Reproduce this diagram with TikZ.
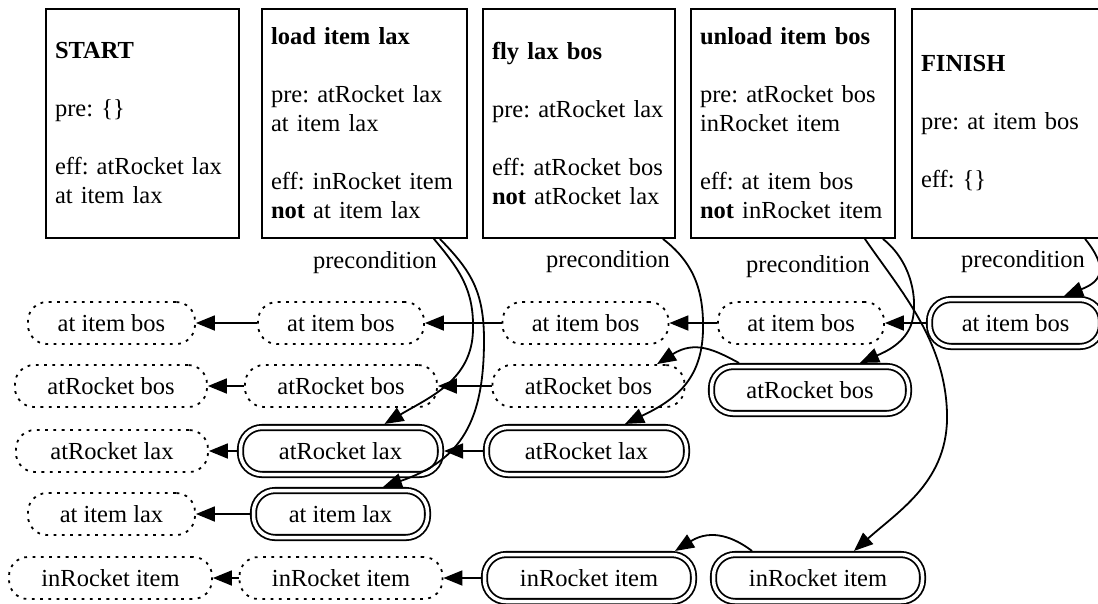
\documentclass[tikz,border=0pt]{standalone}
\usepackage{fontspec}
\setmainfont{Liberation Serif}
\usetikzlibrary{arrows.meta}

\begin{document}
\begin{tikzpicture}[x=1pt,y=-1pt,
  every node/.style={font=\fontsize{24.5}{29}\selectfont\frenchspacing},
  action/.style={draw, line width=1.8pt, rectangle, minimum height=229pt,
    inner xsep=9pt, inner ysep=0pt, align=left},
  fact/.style={rectangle, inner sep=0pt, line width=1.8pt},
  dotfact/.style={fact, draw, rounded corners=19pt, minimum height=42pt,
    dash pattern=on 2.8pt off 5.5pt, minimum width=#1},
  dblfact/.style={fact, draw, double, double distance=3.5pt,
    rounded corners=21.6pt, minimum height=47pt, minimum width=#1,
    outer sep=3.55pt},
  arr/.style={line width=1.8pt, -{Triangle[length=19pt,width=15pt]}},
  lbl/.style={inner sep=0pt}]

\useasboundingbox (0,0) rectangle (1098,603);
\clip (0,0) rectangle (1098,603);

% plan steps
\node[action, text width=175pt] (start) at (142.5,123.5)
  {\mbox{\textbf{START}}\\[29pt]\mbox{pre: \{\}}\\[29pt]\mbox{eff: atRocket lax}\\\mbox{at item lax}};
\node[action, text width=187pt] (load) at (364.5,123.5)
  {\mbox{\textbf{load item lax}}\\[29pt]\mbox{pre: atRocket lax}\\\mbox{at item lax}\\[29pt]\mbox{eff: inRocket item}\\\mbox{\textbf{not} at item lax}};
\node[action, text width=174pt] (fly) at (579,123.5)
  {\mbox{\textbf{fly lax bos}}\\[29pt]\mbox{pre: atRocket lax}\\[29pt]\mbox{eff: atRocket bos}\\\mbox{\textbf{not} atRocket lax}};
\node[action, text width=186pt] (unload) at (793,123.5)
  {\mbox{\textbf{unload item bos}}\\[29pt]\mbox{pre: atRocket bos}\\\mbox{inRocket item}\\[29pt]\mbox{eff: at item bos}\\\mbox{\textbf{not} inRocket item}};
\node[action, text width=177pt] (finish) at (1009.5,123.5)
  {\mbox{\textbf{FINISH}}\\[29pt]\mbox{pre: at item bos}\\[29pt]\mbox{eff: \{\}}};

% facts, column by column
\node[dotfact=167pt] (L1) at (111.5,323) {at item bos};
\node[dotfact=192pt] (L2) at (111,386) {atRocket bos};
\node[dotfact=192pt] (L3) at (112,451) {atRocket lax};
\node[dotfact=167pt] (L4) at (111.5,514) {at item lax};
\node[dotfact=203pt] (L5) at (110.5,578) {inRocket item};

\node[dotfact=166pt] (M1) at (341,323) {at item bos};
\node[dotfact=192pt] (M2) at (341,386) {atRocket bos};
\node[dblfact=200pt] (M3) at (340.5,451) {atRocket lax};
\node[dblfact=174pt] (M4) at (340.5,514) {at item lax};
\node[dotfact=203pt] (M5) at (341,578) {inRocket item};

\node[dotfact=166pt] (R1) at (585.5,323) {at item bos};
\node[dotfact=192pt] (R2) at (588.5,386) {atRocket bos};
\node[dblfact=200pt] (R3) at (586.5,451) {atRocket lax};
\node[dblfact=209pt] (R5) at (589,578) {inRocket item};

\node[dotfact=166pt] (Q1) at (801,323) {at item bos};
\node[dblfact=197pt] (Q2) at (810,390) {atRocket bos};
\node[dblfact=209pt] (Q5) at (818,578) {inRocket item};

\node[dblfact=172pt] (F1) at (1015.5,323) {at item bos};

% persistence links
\draw[arr] (M1.west) -- (L1.east);
\draw[arr] (R1.west) -- (M1.east);
\draw[arr] (Q1.west) -- (R1.east);
\draw[arr] (F1.west) -- (Q1.east);
\draw[arr] (M2.west) -- (L2.east);
\draw[arr] (R2.west) -- (M2.east);
\draw[arr] (M3.west) -- (L3.east);
\draw[arr] (R3.west) -- (M3.east);
\draw[arr] (M4.west) -- (L4.east);
\draw[arr] (M5.west) -- (L5.east);
\draw[arr] (R5.west) -- (M5.east);
\draw[arr] ([xshift=-71pt]Q2.north) .. controls (715,350) and (695,340) .. ([xshift=68.5pt]R2.north);
\draw[arr] ([xshift=-66pt]Q5.north) .. controls (735,538) and (712,528) .. ([xshift=86pt]R5.north);

% precondition links
\draw[arr] ([xshift=-34pt]load.south east) .. controls (460,270) and (474,290) .. (473,330)
  .. controls (472,380) and (430,397) .. ([xshift=44pt]M3.north);
\draw[arr] ([xshift=-28pt]load.south east) .. controls (470,270) and (484,290) .. (484,340)
  .. controls (484,420) and (462,460) .. ([xshift=42.5pt]M4.north);
\draw[arr] ([xshift=-13pt]fly.south east) .. controls (690,260) and (704,285) .. (703,330)
  .. controls (702,380) and (675,400) .. ([xshift=38.5pt]R3.north);
\draw[arr] ([xshift=-13pt]unload.south east) .. controls (912,262) and (918,300) .. (912,322)
  .. controls (906,343) and (885,352) .. ([xshift=50pt]Q2.north);
\draw[arr] ([xshift=-31pt]unload.south east) .. controls (900,290) and (945,340) .. (947,413)
  .. controls (949,480) and (900,510) .. ([xshift=36pt]Q5.north);
\draw[arr] ([xshift=174pt]finish.south west) .. controls (1110,270) and (1100,282) .. ([xshift=48.5pt]F1.north);

\node[lbl] (plabload) at (375,263) {precondition};
\node[lbl] (plabfly) at (608,262) {precondition};
\node[lbl] (plabunload) at (808,267) {precondition};
\node[lbl] (plabfinish) at (1023,262) {precondition};

\end{tikzpicture}
\end{document}
